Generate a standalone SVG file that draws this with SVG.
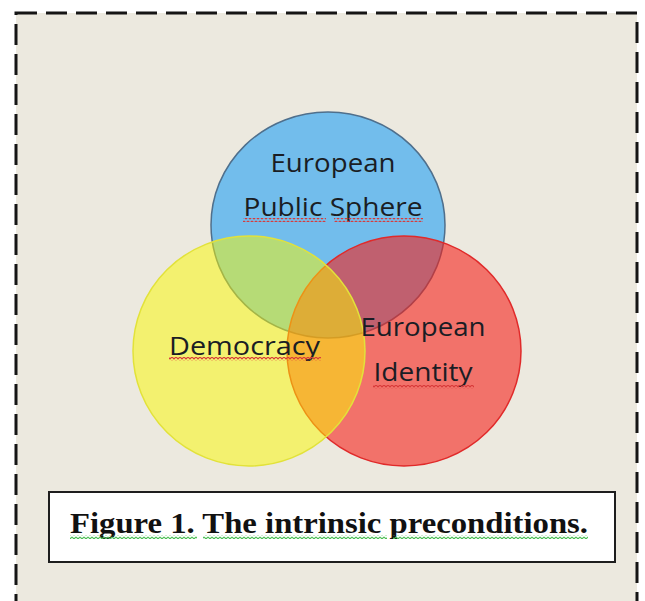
<svg xmlns="http://www.w3.org/2000/svg" width="645" height="601" viewBox="0 0 645 601">
  <style>
    .frame { fill: #ece9df; stroke: #151515; stroke-width: 3; stroke-dasharray: 21 9; }
    .label { font-family: "Open Sans", "Liberation Sans", sans-serif; font-size: 25px; fill: #1a1d24; text-anchor: middle; }
    .caption { font-family: "Liberation Serif", "Times New Roman", serif; font-weight: bold; font-size: 30px; fill: #111; }
    .spell { fill: none; stroke: #d83a3a; stroke-width: 1.2; }
    .grammar { fill: none; stroke: #3fb24a; stroke-width: 1.2; }
  </style>
  <defs>
    <pattern id="wave" width="4" height="4" patternUnits="userSpaceOnUse">
      <path d="M0 1 L2 3 L4 1" fill="none" stroke="#d83a3a" stroke-width="1.1"/>
    </pattern>
    <pattern id="waveGreen" width="4" height="4" patternUnits="userSpaceOnUse">
      <path d="M0 1 L2 3 L4 1" fill="none" stroke="#4cbf55" stroke-width="1.1"/>
    </pattern>
  </defs>

  <rect width="645" height="601" fill="#ffffff"/>
  <rect class="frame" x="16" y="13" width="621" height="610"/>

  <g id="public-sphere">
    <ellipse cx="328" cy="225" rx="117" ry="113" fill="#72bdec" stroke="#4f6f8c" stroke-width="1.5"/>
  </g>
  <g id="european-identity">
    <ellipse cx="404" cy="351" rx="117" ry="115" fill="#f61f18" fill-opacity="0.59" stroke="#e02a2a" stroke-width="1.5"/>
  </g>
  <g id="democracy">
    <ellipse cx="249" cy="351" rx="116" ry="115" fill="#fafa00" fill-opacity="0.5" stroke="#e2e23a" stroke-width="1.5"/>
  </g>

  <g id="labels">
    <text class="label" x="333" y="172" textLength="125" lengthAdjust="spacingAndGlyphs">European</text>
    <text class="label" x="333" y="216" textLength="179" lengthAdjust="spacingAndGlyphs">Public Sphere</text>
    <rect x="243" y="218" width="83" height="4" fill="url(#wave)"/>
    <rect x="334" y="218" width="89" height="4" fill="url(#wave)"/>

    <text class="label" x="244.5" y="355" textLength="151" lengthAdjust="spacingAndGlyphs">Democracy</text>
    <rect x="169" y="357" width="152" height="4" fill="url(#wave)"/>

    <text class="label" x="423" y="336" textLength="125" lengthAdjust="spacingAndGlyphs">European</text>
    <text class="label" x="423" y="381" textLength="99" lengthAdjust="spacingAndGlyphs">Identity</text>
    <rect x="373" y="385" width="101" height="4" fill="url(#wave)"/>
  </g>

  <g id="caption">
    <rect x="49" y="492" width="566" height="70" fill="#ffffff" stroke="#1e1e1e" stroke-width="2"/>
    <text class="caption" x="70" y="533" textLength="518" lengthAdjust="spacingAndGlyphs">Figure 1. The intrinsic preconditions.</text>
    <rect x="70" y="535" width="127" height="4" fill="url(#waveGreen)"/>
    <rect x="203" y="535" width="184" height="4" fill="url(#waveGreen)"/>
    <rect x="393" y="535" width="195" height="4" fill="url(#waveGreen)"/>
  </g>
</svg>
